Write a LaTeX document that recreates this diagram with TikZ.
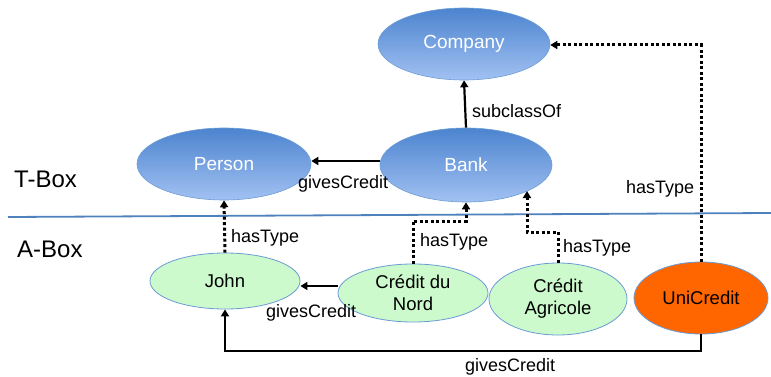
\documentclass[tikz,border=0pt]{standalone}
\usepackage{fontspec}
\setmainfont{Liberation Sans}
\usetikzlibrary{arrows.meta,shapes.geometric}
\definecolor{ebord}{HTML}{6A9BD6}
\definecolor{btop}{HTML}{4C84CF}
\definecolor{bbot}{HTML}{A2C1F2}
\definecolor{gfill}{HTML}{CCFACC}
\definecolor{ofill}{HTML}{FF6600}
\definecolor{sepline}{HTML}{4F81BD}
\tikzset{
  cls/.style={ellipse, draw=ebord, line width=0.6pt, top color=btop, bottom color=bbot, text=white, font=\fontsize{19}{22}\selectfont, inner sep=0pt},
  inst/.style={ellipse, draw=ebord, line width=0.8pt, fill=gfill, text=black, font=\fontsize{18.5}{22}\selectfont, align=center, inner sep=0pt},
  uni/.style={ellipse, draw=ebord, line width=0.8pt, fill=ofill, text=black, font=\fontsize{18.5}{22}\selectfont, inner sep=0pt},
  rel/.style={line width=2.2pt, -{Triangle[length=7pt,width=8pt]}},
  typ/.style={line width=3pt, dash pattern=on 3pt off 2.5pt, -{Triangle[length=7pt,width=8pt]}},
  lbl/.style={font=\fontsize{18}{21}\selectfont, inner sep=0pt},
  box/.style={font=\fontsize{24}{27}\selectfont, inner sep=0pt}
}
\begin{document}
\begin{tikzpicture}[x=1pt,y=-1pt]
\useasboundingbox (0,0) rectangle (771,377);
\draw[sepline, line width=1.8pt] (8,217) -- (771,213);
\node[box, anchor=west] (tbox) at (14,179) {T-Box};
\node[box, anchor=west] (abox) at (17,249) {A-Box};

\node[cls, minimum width=172pt, minimum height=72pt] (company) at (464,44) {Company};
\node[cls, minimum width=172pt, minimum height=74pt] (bank) at (466,165) {Bank};
\node[cls, minimum width=174pt, minimum height=72pt] (person) at (224,164) {Person};

\node[inst, minimum width=150pt, minimum height=56pt] (john) at (225,281) {John};
\node[inst, minimum width=150pt, minimum height=58pt] (cdn) at (413,293) {Crédit du\\Nord};
\node[inst, minimum width=138pt, minimum height=72pt] (ca) at (558,299) {Crédit\\Agricole};
\node[uni, minimum width=134pt, minimum height=72pt] (uc) at (701,298) {UniCredit};

% T-Box relations
\draw[rel] (bank.north) -- (company.south);
\node[lbl, anchor=west] (l1) at (472,111) {subclassOf};
\draw[rel] (bank.west |- 0,161) -- (person.east |- 0,161);
\node[lbl, anchor=west] (l2) at (298,184) {givesCredit};

% hasType
\draw[typ] (john.north) -- (person.south);
\node[lbl, anchor=west] (l3) at (231,238) {hasType};
\coordinate (c1) at (413,221);
\coordinate (c2) at (466,221);
\draw[typ] (cdn.north) -- (c1) -- (c2) -- (bank.south);
\node[lbl, anchor=west] (l4) at (420,242) {hasType};
\coordinate (c3) at (558,232);
\coordinate (c4) at (527,232);
\coordinate (c5) at (527,191);
\draw[typ] (ca.north) -- (c3) -- (c4) -- (c5);
\node[lbl, anchor=west] (l5) at (563,248) {hasType};
\coordinate (c6) at (701,45);
\draw[typ] (uc.north) -- (c6) -- (company.east |- c6);
\node[lbl, anchor=west] (l6) at (626,189) {hasType};

% givesCredit A-Box
\draw[rel] (cdn.west |- 0,286) -- (john.east |- 0,286);
\node[lbl, anchor=west] (l7) at (266,313) {givesCredit};
\coordinate (c7) at (701,351);
\coordinate (c8) at (225,351);
\draw[rel] (uc.south) -- (c7) -- (c8) -- (john.south);
\node[lbl, anchor=west] (l8) at (465,367) {givesCredit};
\end{tikzpicture}
\end{document}
